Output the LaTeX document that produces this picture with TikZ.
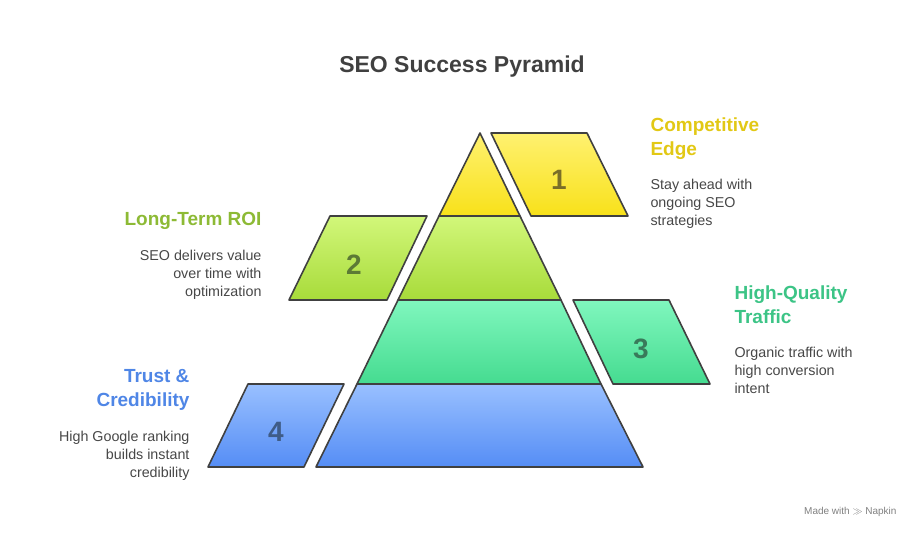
\documentclass[tikz,border=0pt]{standalone}
\usepackage{fontspec}
\setmainfont{Liberation Sans}
\begin{document}
\begin{tikzpicture}[x=1pt,y=-1pt,
  shp/.style={draw=black!75,line width=1.6pt,line join=round},
  num/.style={font=\bfseries\fontsize{28}{28}\selectfont},
  head/.style={font=\bfseries\fontsize{19}{24}\selectfont},
  body/.style={font=\fontsize{14.3}{18}\selectfont,text=black!72},
  hl/.style={head,anchor=north west,align=left},
  hr/.style={head,anchor=north east,align=right},
  bl/.style={body,anchor=north west,align=left},
  br/.style={body,anchor=north east,align=right}]
\useasboundingbox (0,0) rectangle (924,540);
\definecolor{yA}{HTML}{FFF170}\definecolor{yB}{HTML}{F8E11A}\definecolor{yH}{HTML}{E2C815}\definecolor{yN}{HTML}{6B5E10}
\definecolor{gA}{HTML}{D2F77A}\definecolor{gB}{HTML}{A8DB3A}\definecolor{gH}{HTML}{8DBA35}\definecolor{gN}{HTML}{4A6B1E}
\definecolor{tA}{HTML}{80F7BE}\definecolor{tB}{HTML}{45DB90}\definecolor{tH}{HTML}{3CC486}\definecolor{tN}{HTML}{236B48}
\definecolor{bA}{HTML}{99C0FF}\definecolor{bB}{HTML}{558DF5}\definecolor{bH}{HTML}{4F86E6}\definecolor{bN}{HTML}{2A4A7A}
\node[font=\bfseries\fontsize{23}{23}\selectfont,text=black!75] (title) at (462,67) {SEO Success Pyramid};
% pyramid tiers
\draw[shp,top color=yA,bottom color=yB] (480,133) -- (520,216) -- (439,216) -- cycle;
\draw[shp,top color=gA,bottom color=gB] (439,216) -- (520,216) -- (561,300) -- (398,300) -- cycle;
\draw[shp,top color=tA,bottom color=tB] (398,300) -- (561,300) -- (601,384) -- (357,384) -- cycle;
\draw[shp,top color=bA,bottom color=bB] (357,384) -- (601,384) -- (643,467) -- (316,467) -- cycle;
% parallelograms
\draw[shp,top color=yA,bottom color=yB] (491,133) -- (587,133) -- (628,216) -- (531,216) -- cycle;
\draw[shp,top color=gA,bottom color=gB] (330,216) -- (427,216) -- (387,300) -- (289,300) -- cycle;
\draw[shp,top color=tA,bottom color=tB] (573,300) -- (669,300) -- (710,384) -- (613,384) -- cycle;
\draw[shp,top color=bA,bottom color=bB] (248,384) -- (344,384) -- (304,467) -- (208,467) -- cycle;
\node[num,text=yN!90] (n1) at (559,180) {1};
\node[num,text=gN!90] (n2) at (354,265) {2};
\node[num,text=tN!90] (n3) at (641,349) {3};
\node[num,text=bN!90] (n4) at (276,432) {4};
% texts
\node[hl,text=yH] (h1) at (647,114) {Competitive\\Edge};
\node[bl] (b1) at (647,176) {Stay ahead with\\ongoing SEO\\strategies};
\node[hr,text=gH] (h2) at (265,209) {Long-Term ROI};
\node[br] (b2) at (265,247) {SEO delivers value\\over time with\\optimization};
\node[hl,text=tH] (h3) at (731,282) {High-Quality\\Traffic};
\node[bl] (b3) at (731,344) {Organic traffic with\\high conversion\\intent};
\node[hr,text=bH] (h4) at (193,366) {Trust \&\\Credibility};
\node[br] (b4) at (193,428) {High Google ranking\\builds instant\\credibility};
\node[font=\fontsize{10}{10}\selectfont,text=black!50,anchor=east] (mk) at (900,512) {Made with \textbf{$\gg$} Napkin};
\end{tikzpicture}
\end{document}
